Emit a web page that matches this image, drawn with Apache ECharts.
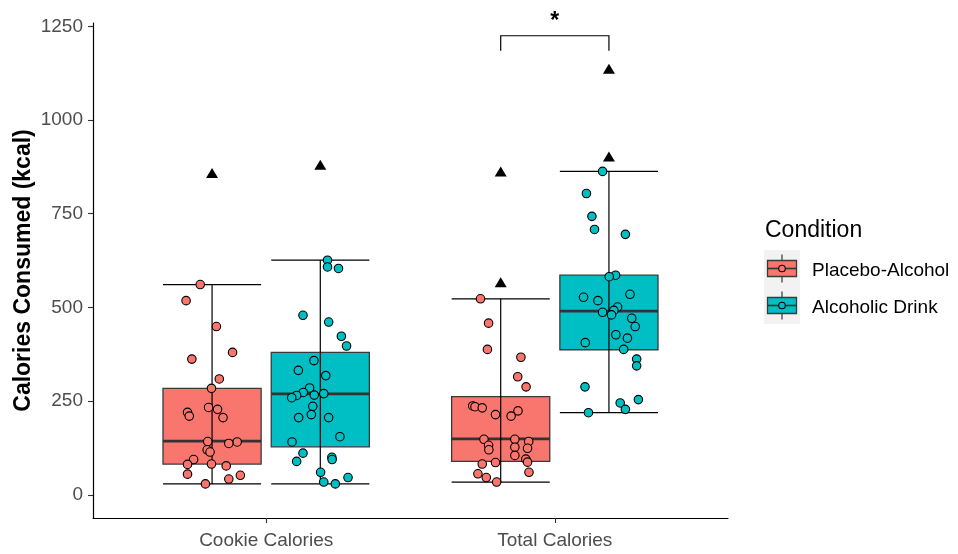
<!DOCTYPE html>
<html>
<head>
<meta charset="utf-8">
<script src="https://cdn.jsdelivr.net/npm/echarts@6/dist/echarts.min.js"></script>
<style>
  html, body { margin: 0; padding: 0; background: #ffffff; }
  #chart { width: 958px; height: 554px; }
</style>
</head>
<body>
<div id="chart"></div>
<script>
const categories = ['Cookie Calories', 'Total Calories'];
const conditions = ['Placebo-Alcohol', 'Alcoholic Drink'];
const yTicks = [0, 250, 500, 750, 1000, 1250];

// Box statistics per category: [lower whisker, Q1, median, Q3, upper whisker]
const placeboBoxes = [[29, 82, 143, 284, 561], [34, 89, 149, 262, 523]];
const alcoholBoxes = [[29, 128, 269, 380, 626], [219, 387, 490, 586, 863]];

// Outlying participants per category (kcal)
const placeboOutliers = [[859], [567, 863]];
const alcoholOutliers = [[881], [903, 1137]];

// Individual participants: [horizontal jitter, kcal]
const cookiePlacebo = [
  [-0.041, 561], [-0.090, 518], [0.015, 449], [0.071, 380], [-0.070, 362],
  [0.025, 309], [-0.002, 284], [-0.012, 233], [0.019, 228], [-0.085, 220],
  [-0.079, 210], [0.038, 206], [-0.015, 142], [0.087, 141], [0.058, 137],
  [-0.017, 120], [-0.007, 114], [-0.064, 94], [-0.085, 81], [-0.002, 82],
  [0.049, 77], [-0.085, 55], [0.098, 52], [0.058, 42], [-0.023, 29]
];
const cookieAlcohol = [
  [0.025, 626], [0.025, 608], [0.063, 604], [-0.060, 479], [0.029, 461],
  [0.073, 423], [0.091, 397], [-0.022, 358], [-0.076, 332], [0.019, 318],
  [-0.037, 285], [-0.059, 273], [-0.082, 265], [-0.099, 259], [-0.021, 266],
  [0.012, 270], [-0.026, 236], [-0.031, 214], [-0.075, 206], [0.029, 206],
  [0.068, 155], [-0.098, 141], [-0.060, 111], [-0.082, 89], [0.040, 100],
  [0.041, 94], [0.001, 60], [0.096, 46], [0.012, 34], [0.052, 29]
];
const totalPlacebo = [
  [-0.070, 523], [-0.042, 458], [-0.046, 388], [0.070, 367], [0.059, 315],
  [0.088, 288], [-0.097, 237], [-0.089, 235], [-0.064, 232], [0.060, 224],
  [-0.018, 214], [0.036, 210], [-0.058, 148], [0.049, 148], [0.097, 142],
  [-0.042, 132], [-0.041, 120], [0.049, 127], [0.093, 124], [0.049, 105],
  [0.087, 95], [0.093, 87], [-0.018, 86], [-0.064, 82], [0.098, 60],
  [-0.079, 56], [-0.050, 46], [-0.014, 34]
];
const totalAlcohol = [
  [-0.022, 863], [-0.078, 804], [-0.059, 743], [-0.050, 708], [0.057, 695],
  [0.023, 586], [0.001, 582], [-0.088, 527], [0.073, 535], [-0.038, 518],
  [0.030, 501], [0.017, 492], [-0.022, 487], [0.009, 480], [0.079, 471],
  [0.091, 449], [0.024, 427], [0.064, 418], [-0.082, 406], [0.051, 388],
  [0.096, 362], [0.096, 344], [-0.083, 288], [0.102, 254], [0.039, 245],
  [0.057, 228], [-0.071, 219]
];

// Significance annotation between the two Total Calories groups
const sigCategory = 1;
const sigBracketTop = 1225;
const sigBracketTip = 1185;
const sigLabelValue = 1279;
const sigLabel = '*';

// ---- styling and layout ----
const COLORS = ['#F8766D', '#00BFC4'];
const DODGE = 0.1875;
const HALF = 0.17;
const FONT = 'Liberation Sans, Arial, sans-serif';

const groups = [
  { cond: 0, cat: 0, box: placeboBoxes[0], out: placeboOutliers[0], pts: cookiePlacebo },
  { cond: 1, cat: 0, box: alcoholBoxes[0], out: alcoholOutliers[0], pts: cookieAlcohol },
  { cond: 0, cat: 1, box: placeboBoxes[1], out: placeboOutliers[1], pts: totalPlacebo },
  { cond: 1, cat: 1, box: alcoholBoxes[1], out: alcoholOutliers[1], pts: totalAlcohol }
];
const centerOf = (cat, cond) => cat + 1 + (cond ? DODGE : -DODGE);

const boxData = groups.map(g => [centerOf(g.cat, g.cond)].concat(g.box, [g.cond]));

const pointSeries = [0, 1].map(cond => ({
  type: 'scatter',
  name: conditions[cond],
  z: 5,
  symbol: 'circle',
  symbolSize: 8.5,
  itemStyle: { color: COLORS[cond], borderColor: '#000', borderWidth: 1.1, opacity: 1 },
  emphasis: { disabled: true },
  data: groups.filter(g => g.cond === cond)
    .flatMap(g => g.pts.map(p => [centerOf(g.cat, g.cond) + p[0], p[1]]))
}));

const outlierData = groups.flatMap(g => g.out.map(v => [centerOf(g.cat, g.cond), v]));

function renderBox(params, api) {
  const x = api.value(0);
  const tl = api.coord([x - HALF, api.value(4)]);
  const br = api.coord([x + HALF, api.value(2)]);
  const med = api.coord([x, api.value(3)]);
  return {
    type: 'group',
    children: [
      {
        type: 'rect',
        shape: { x: tl[0], y: tl[1], width: br[0] - tl[0], height: br[1] - tl[1] },
        style: { fill: COLORS[api.value(6)], stroke: '#3a3a3a', lineWidth: 1.3 }
      },
      {
        type: 'line',
        shape: { x1: tl[0], y1: med[1], x2: br[0], y2: med[1] },
        style: { stroke: '#333333', lineWidth: 2.8 }
      }
    ]
  };
}

function renderWhisker(params, api) {
  const x = api.value(0);
  const lo = api.coord([x, api.value(1)]);
  const hi = api.coord([x, api.value(5)]);
  const l = api.coord([x - HALF, 0])[0];
  const r = api.coord([x + HALF, 0])[0];
  const st = { stroke: '#000', lineWidth: 1.2 };
  return {
    type: 'group',
    children: [
      { type: 'line', shape: { x1: lo[0], y1: lo[1], x2: hi[0], y2: hi[1] }, style: st },
      { type: 'line', shape: { x1: l, y1: lo[1], x2: r, y2: lo[1] }, style: st },
      { type: 'line', shape: { x1: l, y1: hi[1], x2: r, y2: hi[1] }, style: st }
    ]
  };
}

function renderBracket(params, api) {
  const left = api.coord([api.value(0), api.value(3)]);
  const right = api.coord([api.value(1), api.value(3)]);
  const topL = api.coord([api.value(0), api.value(2)]);
  const topR = api.coord([api.value(1), api.value(2)]);
  const lab = api.coord([(api.value(0) + api.value(1)) / 2, api.value(4)]);
  return {
    type: 'group',
    children: [
      {
        type: 'polyline',
        shape: { points: [left, topL, topR, right] },
        style: { stroke: '#000', lineWidth: 1.2, fill: null }
      },
      {
        // the asterisk glyph sits high in its line box, so nudge it down
        type: 'text',
        x: lab[0], y: lab[1] + 6,
        style: { text: sigLabel, fill: '#000', font: 'bold 23px ' + FONT, align: 'center', verticalAlign: 'middle' }
      }
    ]
  };
}

// ---- legend ----
const LEG_X = 764, KEY_W = 36, KEY_H = 37, KEY_TOP = 250;
const legendChildren = [
  {
    type: 'text', x: 765, y: 231,
    style: { text: 'Condition', fill: '#000', font: '23px ' + FONT, verticalAlign: 'middle' }
  },
  {
    type: 'rect', shape: { x: LEG_X, y: KEY_TOP, width: KEY_W, height: KEY_H * 2 },
    style: { fill: '#F2F2F2' }
  }
];
conditions.forEach((name, i) => {
  const cy = KEY_TOP + KEY_H * i + KEY_H / 2;
  const cx = LEG_X + KEY_W / 2;
  legendChildren.push(
    { type: 'line', shape: { x1: cx, y1: cy - 14, x2: cx, y2: cy + 14 }, style: { stroke: '#333', lineWidth: 1.2 } },
    { type: 'rect', shape: { x: LEG_X + 3.5, y: cy - 8, width: KEY_W - 7, height: 16 }, style: { fill: COLORS[i], stroke: '#3a3a3a', lineWidth: 1.3 } },
    { type: 'line', shape: { x1: LEG_X + 3.5, y1: cy, x2: LEG_X + KEY_W - 3.5, y2: cy }, style: { stroke: '#333', lineWidth: 1.6 } },
    { type: 'circle', shape: { cx: cx, cy: cy, r: 3.3 }, style: { fill: COLORS[i], stroke: '#000', lineWidth: 1.1 } },
    { type: 'text', x: 812, y: cy + 2, style: { text: name, fill: '#000', font: '19px ' + FONT, verticalAlign: 'middle' } }
  );
});

const chart = echarts.init(document.getElementById('chart'), null, { renderer: 'canvas' });
chart.setOption({
  animation: false,
  backgroundColor: '#ffffff',
  textStyle: { fontFamily: FONT },
  grid: { left: 93, right: 230, top: 23, bottom: 36, containLabel: false, outerBoundsMode: 'none' },
  xAxis: {
    type: 'value',
    min: 0.4,
    max: 2.6,
    splitLine: { show: false },
    axisLine: { show: true, onZero: false, lineStyle: { color: '#000', width: 1.2 } },
    axisTick: { show: true, length: 5, customValues: [1, 2], lineStyle: { color: '#333', width: 1.1 } },
    axisLabel: {
      customValues: [1, 2],
      margin: 13,
      color: '#4D4D4D',
      fontSize: 19,
      fontFamily: FONT,
      formatter: v => categories[Math.round(v) - 1]
    }
  },
  yAxis: {
    type: 'value',
    min: -62,
    max: 1259,
    name: 'Calories Consumed (kcal)',
    nameLocation: 'middle',
    nameRotate: 90,
    nameGap: 58,
    nameMoveOverlap: false,
    nameTextStyle: { color: '#000', fontSize: 23, fontWeight: 'bold', fontFamily: FONT },
    splitLine: { show: false },
    axisLine: { show: true, onZero: false, lineStyle: { color: '#000', width: 1.2 } },
    axisTick: { show: true, length: 5, customValues: yTicks, lineStyle: { color: '#333', width: 1.1 } },
    axisLabel: {
      customValues: yTicks,
      margin: 10,
      color: '#4D4D4D',
      fontSize: 19,
      fontFamily: FONT,
      formatter: v => String(Math.round(v))
    }
  },
  series: [
    {
      type: 'custom',
      name: 'boxes',
      z: 2,
      renderItem: renderBox,
      encode: { x: 0, y: [1, 2, 3, 4, 5] },
      data: boxData,
      silent: true
    },
    {
      type: 'custom',
      name: 'whiskers',
      z: 3,
      renderItem: renderWhisker,
      encode: { x: 0, y: [1, 5] },
      data: boxData,
      silent: true
    },
    ...pointSeries,
    {
      type: 'scatter',
      name: 'outliers',
      z: 6,
      symbol: 'triangle',
      symbolSize: [12, 10],
      itemStyle: { color: '#000', opacity: 1 },
      emphasis: { disabled: true },
      data: outlierData
    },
    {
      type: 'custom',
      name: 'significance',
      z: 7,
      clip: false,
      renderItem: renderBracket,
      encode: { x: [0, 1], y: [2, 3] },
      data: [[sigCategory + 1 - DODGE, sigCategory + 1 + DODGE, sigBracketTop, sigBracketTip, sigLabelValue]],
      silent: true
    }
  ],
  graphic: { elements: [{ type: 'group', children: legendChildren }] }
});
</script>
</body>
</html>
